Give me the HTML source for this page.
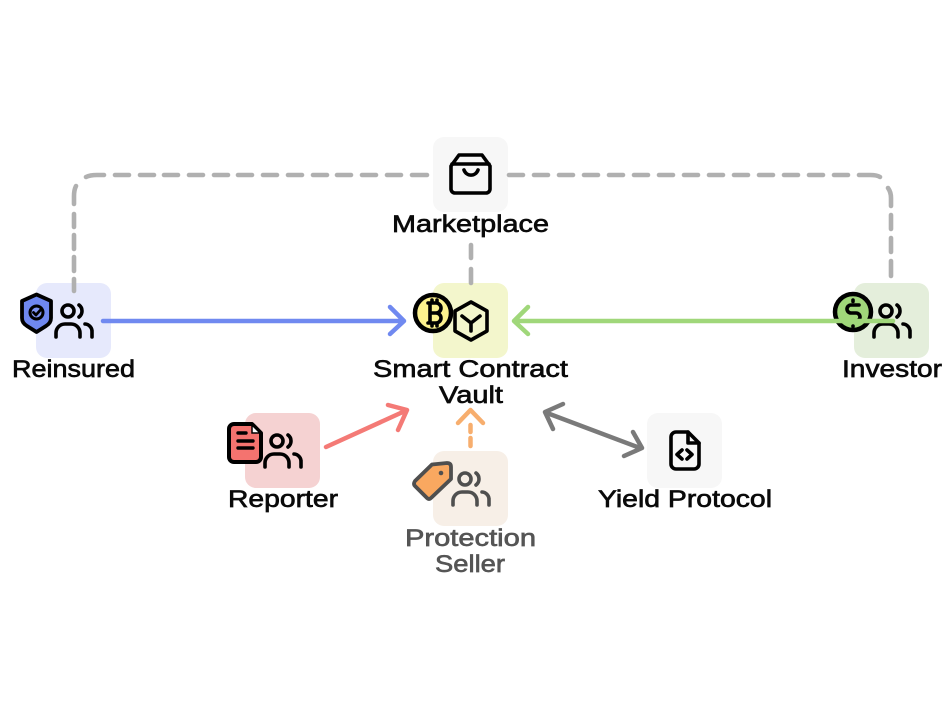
<!DOCTYPE html>
<html>
<head>
<meta charset="utf-8">
<style>
html,body{margin:0;padding:0;background:#fff;width:950px;height:726px;overflow:hidden}
svg{display:block}
text{font-family:"Liberation Sans",sans-serif;font-size:24px;fill:#0a0a0a;stroke:#0a0a0a;stroke-width:.65}
.ic{fill:none;stroke:#000;stroke-width:3.6;stroke-linecap:round;stroke-linejoin:round}
.dash{fill:none;stroke:#b0b0b0;stroke-width:4.6;stroke-linecap:round}
</style>
</head>
<body>
<svg width="950" height="726" viewBox="0 0 950 726" xmlns="http://www.w3.org/2000/svg">
<defs>
<g id="users">
<circle cx="68" cy="311" r="6"/>
<path d="M79 305a7.500 7.500 0 0 1 0 12"/>
<path d="M56 337v-4a9 9 0 0 1 9-9h6a9 9 0 0 1 9 9v4"/>
<path d="M85 324a7.500 7.500 0 0 1 7 8v5"/>
</g>
</defs>

<rect x="36" y="283" width="75" height="75" rx="11" fill="#e6e9fc"/>
<rect x="433" y="137" width="75" height="75" rx="11" fill="#f7f7f7"/>
<rect x="433" y="283" width="75" height="75" rx="11" fill="#f3f6cc"/>
<rect x="854" y="283" width="75" height="75" rx="11" fill="#e4eedb"/>
<rect x="245" y="413" width="75" height="75" rx="11" fill="#f5d2d2"/>
<rect x="433" y="451" width="75" height="75" rx="11" fill="#f7efe7"/>
<rect x="647" y="413" width="75" height="75" rx="11" fill="#f7f7f7"/>

<g class="dash">
<path d="M74 291V279M74 271V257M74 249V235M74 227V214M74 204V196Q74 190 76 186M86 177Q90 175 97 175H104"/>
<path d="M115 175H129M140 175H154M164 175H178M189 175H203M214 175H228M238 175H252M263 175H277M288 175H302M313 175H327M337 175H351M362 175H376M387 175H401M412 175H427"/>
<path d="M509 175H523M534 175H548M559 175H573M584 175H598M609 175H623M634 175H648M659 175H673M684 175H698M709 175H723M734 175H748M759 175H773M784 175H798M809 175H823M834 175H848M859 175H870Q877 175 880 177"/>
<path d="M888 188Q891 192 891 198V206M891 215V229M891 238V252M891 261V276"/>
<path d="M471 245V258M471 269V283"/>
</g>

<g class="ic">
<path d="M451 166L459 155H482L490 166V189a4 4 0 0 1-4 4H455a4 4 0 0 1-4-4Z"/>
<path d="M452 164H489"/>
<path d="M464 170a7.500 8 0 0 0 14 0"/>
</g>

<g class="ic"><use href="#users"/></g>
<path d="M36.500 294.500L51 301V318Q51 323 46 326L36.500 332L27 326Q22 323 22 318V301Z" fill="#6f88f0" stroke="#000" stroke-width="3.800" stroke-linejoin="round"/>
<circle cx="36.500" cy="312.500" r="6.500" fill="#7f95f2" stroke="#000" stroke-width="3"/>
<path d="M33.500 312.500l2.500 2.500 4-4.500" fill="none" stroke="#000" stroke-width="2.800" stroke-linecap="round" stroke-linejoin="round"/>

<circle cx="433" cy="313" r="18" fill="#fdf28e" stroke="#000" stroke-width="4.500"/>
<g class="ic">
<path d="M428 303H436a5 5 0 0 1 0 10H430M436 313a5 5 0 0 1 0 10H428M430 303V323M432 300V303M437 300V303M432 323V326M437 323V326"/>
<path d="M471 302L487 311V331L471 340L455 331V311Z"/>
<path d="M462 316L471 323L480 316M471 323V331"/>
</g>

<g class="ic" transform="translate(818 0)"><use href="#users"/></g>
<circle cx="853" cy="312" r="18" fill="#a0d77a" stroke="#000" stroke-width="4.500"/>
<g class="ic">
<path d="M859 305H851a3.500 3.500 0 0 0 0 8H856a3.500 3.500 0 0 1 0 8H848"/>
<path d="M853 300V301.500M853 326V326.500"/>
</g>

<g class="ic" transform="translate(209 130)"><use href="#users"/></g>
<path d="M234 424H252L261 433V457a5 5 0 0 1-5 5H234a5 5 0 0 1-5-5V429a5 5 0 0 1 5-5Z" fill="#f4736f" stroke="#000" stroke-width="4" stroke-linejoin="round"/>
<path d="M238 433H246M238 441H253M238 448H253" fill="none" stroke="#000" stroke-width="3.400" stroke-linecap="round"/>
<path d="M252 425V433H260Z" fill="#fff" stroke="#000" stroke-width="1.500"/>

<g class="ic" style="stroke:#4f4f4f" transform="translate(397 168)"><use href="#users"/></g>
<path d="M432 464.500L447 463Q451 463 451 467L451 479L431 498Q429 500 427 498L415 486Q413 484 415 481Z" fill="#f9a860" stroke="#4f4f4f" stroke-width="3.800" stroke-linejoin="round"/>
<circle cx="441" cy="473" r="2.300" fill="#4f4f4f"/>

<g class="ic">
<path d="M676 432H688L699 443V464a5 5 0 0 1-5 5H676a5 5 0 0 1-5-5V437a5 5 0 0 1 5-5Z"/>
<path d="M688 432V443H699"/>
<path d="M682 450L677 454.500L682 459M687 450L692 454.500L687 459"/>
</g>

<g fill="none" stroke-linecap="round" stroke-linejoin="round" stroke-width="4.500">
<path d="M103 321H403M390 307L404 321L390 334" stroke="#7089f0"/>
<path d="M893 321H516M528 307L514 321L528 334" stroke="#a0d77a"/>
<path d="M326 447L405 411M388 405L407 410L398 430" stroke="#f47a76"/>
<path d="M470.500 425V432M470.500 438V446M458 423L470.500 410L483 423" stroke="#f7ae6e"/>
<path d="M547 413L640 448M563 404L545 412L553 429M633 432L642 448L624 456" stroke="#7a7a7a"/>
</g>

<text x="12" y="377" textLength="123" lengthAdjust="spacingAndGlyphs">Reinsured</text>
<text x="392" y="232" textLength="157" lengthAdjust="spacingAndGlyphs">Marketplace</text>
<text x="373" y="377" textLength="195" lengthAdjust="spacingAndGlyphs">Smart Contract</text>
<text x="439" y="403" textLength="64" lengthAdjust="spacingAndGlyphs">Vault</text>
<text x="842" y="377" textLength="100" lengthAdjust="spacingAndGlyphs">Investor</text>
<text x="228" y="507" textLength="110" lengthAdjust="spacingAndGlyphs">Reporter</text>
<text x="405" y="546" textLength="131" lengthAdjust="spacingAndGlyphs" style="fill:#555;stroke:#555">Protection</text>
<text x="435" y="572" textLength="70" lengthAdjust="spacingAndGlyphs" style="fill:#555;stroke:#555">Seller</text>
<text x="598" y="507" textLength="174" lengthAdjust="spacingAndGlyphs">Yield Protocol</text>
</svg>
</body>
</html>
